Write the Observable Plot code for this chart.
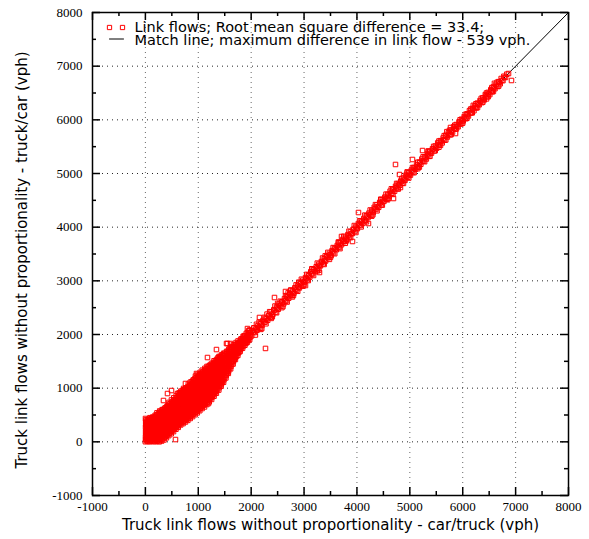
<!DOCTYPE html>
<html>
<head>
<meta charset="utf-8">
<script src="https://cdn.jsdelivr.net/npm/d3@7"></script>
<script src="https://cdn.jsdelivr.net/npm/@observablehq/plot@0.6"></script>
<style>
html, body { margin: 0; padding: 0; background: #fff; }
</style>
</head>
<body>
<script>
// Axis ticks
const majorTicks = [-1000, 0, 1000, 2000, 3000, 4000, 5000, 6000, 7000, 8000];
const minorTicks = [-500, 500, 1500, 2500, 3500, 4500, 5500, 6500, 7500];
const gridTicks = [0, 1000, 2000, 3000, 4000, 5000, 6000, 7000];

// Texts
const xTitle = "Truck link flows without proportionality - car/truck (vph)";
const yTitle = "Truck link flows without proportionality - truck/car (vph)";
const legendPoints = "Link flows; Root mean square difference = 33.4;";
const legendLine = "Match line; maximum difference in link flow - 539 vph.";

// Match line (y = x)
const matchLine = [0, 8000];

// Link flows [car/truck, truck/car] — dense cluster near the origin
const clusterFlows = [
[0,2],[6,48],[2,92],[10,138],[4,182],[12,228],[3,272],[8,318],[5,362],[11,408],
[38,8],[44,52],[36,98],[46,142],[40,188],[48,232],[42,278],[37,322],[45,368],[41,412],
[82,0],[88,45],[84,90],[92,135],[80,180],[90,225],[86,270],[94,315],[83,360],[91,405],[87,450],
[128,12],[134,58],[126,102],[136,148],[130,192],[138,238],[132,282],[127,328],[135,372],[131,418],[139,462],
[172,0],[178,45],[174,90],[182,135],[170,180],[180,225],[176,270],[184,315],[173,360],[181,405],[177,450],[185,495],
[218,10],[224,55],[216,100],[226,145],[220,190],[228,235],[222,280],[217,325],[225,370],[221,415],[229,460],[223,505],[219,540],
[262,0],[268,45],[264,90],[272,135],[260,180],[270,225],[266,270],[274,315],[263,360],[271,405],[267,450],[275,495],[262,540],[270,575],
[308,15],[314,60],[306,105],[316,150],[310,195],[318,240],[312,285],[307,330],[315,375],[311,420],[319,465],[313,510],[309,555],[317,600],
[352,35],[358,80],[354,125],[362,170],[350,215],[360,260],[356,305],[364,350],[353,395],[361,440],[357,485],[365,530],[352,575],[360,620],
[398,75],[404,120],[396,165],[406,210],[400,255],[408,300],[402,345],[397,390],[405,435],[401,480],[409,525],[403,570],[399,615],[407,660],
[442,115],[448,160],[444,205],[452,250],[440,295],[450,340],[446,385],[454,430],[443,475],[451,520],[447,565],[455,610],[442,655],[450,700],[446,735],
[488,150],[494,195],[486,240],[496,285],[490,330],[498,375],[492,420],[487,465],[495,510],[491,555],[499,600],[493,645],[489,690],[497,735],[492,780],
[532,190],[538,235],[534,280],[542,325],[530,370],[540,415],[536,460],[544,505],[533,550],[541,595],[537,640],[545,685],[532,730],[540,775],[536,820],
[578,235],[584,280],[576,325],[586,370],[580,415],[588,460],[582,505],[577,550],[585,595],[581,640],[589,685],[583,730],[579,775],[587,820],[582,862],
[622,270],[628,315],[624,360],[632,405],[620,450],[630,495],[626,540],[634,585],[623,630],[631,675],[627,720],[635,765],[622,810],[630,855],[626,905],
[668,315],[674,360],[666,405],[676,450],[670,495],[678,540],[672,585],[667,630],[675,675],[671,720],[679,765],[673,810],[669,855],[677,900],[672,945],
[712,340],[718,385],[714,430],[722,475],[710,520],[720,565],[716,610],[724,655],[713,700],[721,745],[717,790],[725,835],[712,880],[720,925],[716,970],[722,995],
[758,370],[764,415],[756,460],[766,505],[760,550],[768,595],[762,640],[757,685],[765,730],[761,775],[769,820],[763,865],[759,910],[767,955],[762,1000],
[802,400],[808,445],[804,490],[812,535],[800,580],[810,625],[806,670],[814,715],[803,760],[811,805],[807,850],[815,895],[802,940],[810,985],[806,1030],[812,1075],
[848,435],[854,480],[846,525],[856,570],[850,615],[858,660],[852,705],[847,750],[855,795],[851,840],[859,885],[853,930],[849,975],[857,1020],[852,1065],[848,1110],
[892,470],[898,515],[894,560],[902,605],[890,650],[900,695],[896,740],[904,785],[893,830],[901,875],[897,920],[905,965],[892,1010],[900,1055],[896,1100],[902,1150],
[938,505],[944,550],[936,595],[946,640],[940,685],[948,730],[942,775],[937,820],[945,865],[941,910],[949,955],[943,1000],[939,1045],[947,1090],[942,1135],[938,1180],[947,1225],
[982,540],[988,585],[984,630],[992,675],[980,720],[990,765],[986,810],[994,855],[983,900],[991,945],[987,990],[995,1035],[982,1080],[990,1125],[986,1170],[992,1215],[985,1255],
[1028,580],[1034,625],[1026,670],[1036,715],[1030,760],[1038,805],[1032,850],[1027,895],[1035,940],[1031,985],[1039,1030],[1033,1075],[1029,1120],[1037,1165],[1032,1210],[1028,1255],[1035,1295],
[1072,620],[1078,665],[1074,710],[1082,755],[1070,800],[1080,845],[1076,890],[1084,935],[1073,980],[1081,1025],[1077,1070],[1085,1115],[1072,1160],[1080,1205],[1076,1250],[1082,1295],[1075,1335],
[1118,650],[1124,695],[1116,740],[1126,785],[1120,830],[1128,875],[1122,920],[1117,965],[1125,1010],[1121,1055],[1129,1100],[1123,1145],[1119,1190],[1127,1235],[1122,1280],[1118,1325],[1125,1370],
[1162,695],[1168,740],[1164,785],[1172,830],[1160,875],[1170,920],[1166,965],[1174,1010],[1163,1055],[1171,1100],[1167,1145],[1175,1190],[1162,1235],[1170,1280],[1166,1325],[1172,1370],[1165,1405],
[1208,745],[1214,790],[1206,835],[1216,880],[1210,925],[1218,970],[1212,1015],[1207,1060],[1215,1105],[1211,1150],[1219,1195],[1213,1240],[1209,1285],[1217,1330],[1212,1375],[1208,1420],
[1252,790],[1258,835],[1254,880],[1262,925],[1250,970],[1260,1015],[1256,1060],[1264,1105],[1253,1150],[1261,1195],[1257,1240],[1265,1285],[1252,1330],[1260,1375],[1256,1420],[1262,1465],
[1298,850],[1304,895],[1296,940],[1306,985],[1300,1030],[1308,1075],[1302,1120],[1297,1165],[1305,1210],[1301,1255],[1309,1300],[1303,1345],[1299,1390],[1307,1435],[1302,1480],[1298,1510],
[1342,905],[1348,950],[1344,995],[1352,1040],[1340,1085],[1350,1130],[1346,1175],[1354,1220],[1343,1265],[1351,1310],[1347,1355],[1355,1400],[1342,1445],[1350,1490],[1346,1535],
[1388,965],[1394,1010],[1386,1055],[1396,1100],[1390,1145],[1398,1190],[1392,1235],[1387,1280],[1395,1325],[1391,1370],[1399,1415],[1393,1460],[1389,1505],[1397,1550],[1392,1590],
[1432,1035],[1438,1080],[1434,1125],[1442,1170],[1430,1215],[1440,1260],[1436,1305],[1444,1350],[1433,1395],[1441,1440],[1437,1485],[1445,1530],[1432,1575],[1440,1620],
[1478,1110],[1484,1155],[1476,1200],[1486,1245],[1480,1290],[1488,1335],[1482,1380],[1477,1425],[1485,1470],[1481,1515],[1489,1560],[1483,1605],[1479,1650],
[1522,1190],[1528,1235],[1524,1280],[1532,1325],[1520,1370],[1530,1415],[1526,1460],[1534,1505],[1523,1550],[1531,1595],[1527,1640],[1535,1685],
[1568,1275],[1574,1320],[1566,1365],[1576,1410],[1570,1455],[1578,1500],[1572,1545],[1567,1590],[1575,1635],[1571,1680],[1579,1725],
[1612,1360],[1618,1405],[1614,1450],[1622,1495],[1610,1540],[1620,1585],[1616,1630],[1624,1675],[1613,1720],[1621,1765],
[1658,1450],[1664,1495],[1656,1540],[1666,1585],[1660,1630],[1668,1675],[1662,1720],[1657,1765],[1665,1810],
[1702,1535],[1708,1580],[1704,1625],[1712,1670],[1700,1715],[1710,1760],[1706,1805],[1714,1850],
[1748,1610],[1754,1655],[1746,1700],[1756,1745],[1750,1790],[1758,1835],[1752,1880],
[1792,1685],[1798,1730],[1794,1775],[1802,1820],[1790,1865],[1800,1910],
[1838,1745],[1844,1790],[1836,1835],[1846,1880],[1840,1925],[1848,1965],
[1882,1800],[1888,1845],[1884,1890],[1892,1935],[1880,1980],
[1928,1855],[1934,1900],[1926,1945],[1936,1990],[1930,2035],
[1972,1905],[1978,1950],[1974,1995],[1982,2040],[1970,2085]
];

// Link flows filling the core of the cluster (between the rows above)
const clusterCoreFlows = [
[22,25],[27,70],[20,115],[25,160],[21,205],[28,250],[23,295],[26,340],[20,385],
[60,22],[66,68],[61,112],[65,158],[63,202],[67,248],[60,292],[64,338],[62,382],[66,425],
[105,25],[111,70],[106,115],[110,160],[108,205],[112,250],[105,295],[109,340],[107,385],[111,430],
[151,22],[157,68],[152,112],[156,158],[154,202],[158,248],[151,292],[155,338],[153,382],[157,428],
[196,30],[202,75],[197,120],[201,165],[199,210],[203,255],[196,300],[200,345],[198,390],[202,435],[197,480],
[241,25],[247,70],[242,115],[246,160],[244,205],[248,250],[241,295],[245,340],[243,385],[247,430],[242,475],[246,520],
[286,35],[292,80],[287,125],[291,170],[289,215],[293,260],[286,305],[290,350],[288,395],[292,440],[287,485],[291,530],[289,560],
[330,55],[336,100],[331,145],[335,190],[333,235],[337,280],[330,325],[334,370],[332,415],[336,460],[331,505],[335,550],[333,595],
[375,95],[381,140],[376,185],[380,230],[378,275],[382,320],[375,365],[379,410],[377,455],[381,500],[376,545],[380,590],[378,635],
[420,135],[426,180],[421,225],[425,270],[423,315],[427,360],[420,405],[424,450],[422,495],[426,540],[421,585],[425,630],[423,675],
[465,170],[471,215],[466,260],[470,305],[468,350],[472,395],[465,440],[469,485],[467,530],[471,575],[466,620],[470,665],[468,710],
[510,210],[516,255],[511,300],[515,345],[513,390],[517,435],[510,480],[514,525],[512,570],[516,615],[511,660],[515,705],[513,750],
[555,250],[561,295],[556,340],[560,385],[558,430],[562,475],[555,520],[559,565],[557,610],[561,655],[556,700],[560,745],[558,790],
[600,290],[606,335],[601,380],[605,425],[603,470],[607,515],[600,560],[604,605],[602,650],[606,695],[601,740],[605,785],[603,830],
[645,330],[651,375],[646,420],[650,465],[648,510],[652,555],[645,600],[649,645],[647,690],[651,735],[646,780],[650,825],[648,870],[652,915],
[690,360],[696,405],[691,450],[695,495],[693,540],[697,585],[690,630],[694,675],[692,720],[696,765],[691,810],[695,855],[693,900],[697,945],
[735,390],[741,435],[736,480],[740,525],[738,570],[742,615],[735,660],[739,705],[737,750],[741,795],[736,840],[740,885],[738,930],[742,975],
[780,420],[786,465],[781,510],[785,555],[783,600],[787,645],[780,690],[784,735],[782,780],[786,825],[781,870],[785,915],[783,960],[787,1005],
[825,455],[831,500],[826,545],[830,590],[828,635],[832,680],[825,725],[829,770],[827,815],[831,860],[826,905],[830,950],[828,995],[832,1040],
[870,490],[876,535],[871,580],[875,625],[873,670],[877,715],[870,760],[874,805],[872,850],[876,895],[871,940],[875,985],[873,1030],[877,1075],[872,1120],
[915,525],[921,570],[916,615],[920,660],[918,705],[922,750],[915,795],[919,840],[917,885],[921,930],[916,975],[920,1020],[918,1065],[922,1110],[917,1155],
[960,560],[966,605],[961,650],[965,695],[963,740],[967,785],[960,830],[964,875],[962,920],[966,965],[961,1010],[965,1055],[963,1100],[967,1145],[962,1190],
[1005,600],[1011,645],[1006,690],[1010,735],[1008,780],[1012,825],[1005,870],[1009,915],[1007,960],[1011,1005],[1006,1050],[1010,1095],[1008,1140],[1012,1185],[1007,1230],
[1050,640],[1056,685],[1051,730],[1055,775],[1053,820],[1057,865],[1050,910],[1054,955],[1052,1000],[1056,1045],[1051,1090],[1055,1135],[1053,1180],[1057,1225],[1052,1270],
[1095,680],[1101,725],[1096,770],[1100,815],[1098,860],[1102,905],[1095,950],[1099,995],[1097,1040],[1101,1085],[1096,1130],[1100,1175],[1098,1220],[1102,1265],[1097,1310],
[1140,720],[1146,765],[1141,810],[1145,855],[1143,900],[1147,945],[1140,990],[1144,1035],[1142,1080],[1146,1125],[1141,1170],[1145,1215],[1143,1260],[1147,1305],[1142,1350],
[1185,770],[1191,815],[1186,860],[1190,905],[1188,950],[1192,995],[1185,1040],[1189,1085],[1187,1130],[1191,1175],[1186,1220],[1190,1265],[1188,1310],[1192,1355],[1187,1395],
[1230,815],[1236,860],[1231,905],[1235,950],[1233,995],[1237,1040],[1230,1085],[1234,1130],[1232,1175],[1236,1220],[1231,1265],[1235,1310],[1233,1355],[1237,1400],[1232,1440],
[1275,870],[1281,915],[1276,960],[1280,1005],[1278,1050],[1282,1095],[1275,1140],[1279,1185],[1277,1230],[1281,1275],[1276,1320],[1280,1365],[1278,1410],[1282,1455],
[1320,925],[1326,970],[1321,1015],[1325,1060],[1323,1105],[1327,1150],[1320,1195],[1324,1240],[1322,1285],[1326,1330],[1321,1375],[1325,1420],[1323,1465],[1327,1510],
[1365,985],[1371,1030],[1366,1075],[1370,1120],[1368,1165],[1372,1210],[1365,1255],[1369,1300],[1367,1345],[1371,1390],[1366,1435],[1370,1480],[1368,1525],[1372,1565],
[1410,1050],[1416,1095],[1411,1140],[1415,1185],[1413,1230],[1417,1275],[1410,1320],[1414,1365],[1412,1410],[1416,1455],[1411,1500],[1415,1545],[1413,1590],
[1455,1120],[1461,1165],[1456,1210],[1460,1255],[1458,1300],[1462,1345],[1455,1390],[1459,1435],[1457,1480],[1461,1525],[1456,1570],[1460,1615],
[1500,1200],[1506,1245],[1501,1290],[1505,1335],[1503,1380],[1507,1425],[1500,1470],[1504,1515],[1502,1560],[1506,1605],[1501,1650],
[1545,1280],[1551,1325],[1546,1370],[1550,1415],[1548,1460],[1552,1505],[1545,1550],[1549,1595],[1547,1640],[1551,1685],
[1590,1370],[1596,1415],[1591,1460],[1595,1505],[1593,1550],[1597,1595],[1590,1640],[1594,1685],[1592,1730],
[1635,1450],[1641,1495],[1636,1540],[1640,1585],[1638,1630],[1642,1675],[1635,1720],[1639,1765],
[1680,1530],[1686,1575],[1681,1620],[1685,1665],[1683,1710],[1687,1755],[1680,1800],
[1725,1600],[1731,1645],[1726,1690],[1730,1735],[1728,1780],[1732,1825],
[1770,1670],[1776,1715],[1771,1760],[1775,1805],[1773,1850],
[1815,1740],[1821,1785],[1816,1830],[1820,1875],[1818,1920],
[1860,1790],[1866,1835],[1861,1880],[1865,1925],[1863,1970],
[1905,1840],[1911,1885],[1906,1930],[1910,1975],[1908,2020],
[1950,1890],[1956,1935],[1951,1980],[1955,2025],[1953,2070]
];

// Link flows along the diagonal above 2000 vph
const bandFlows = [
[2010,1975],[2025,2070],[2060,2035],[2078,2125],[2110,2080],[2122,2160],[2163,2118],[2176,2215],[2205,2170],[2224,2262],
[2262,2230],[2271,2305],[2312,2265],[2330,2350],[2360,2320],[2377,2418],[2410,2376],[2428,2462],[2462,2418],[2480,2512],
[2511,2470],[2526,2566],[2560,2528],[2578,2610],[2614,2570],[2630,2668],[2658,2622],[2675,2710],[2710,2676],[2729,2760],
[2762,2722],[2780,2812],[2808,2770],[2826,2870],[2860,2826],[2879,2912],[2912,2868],[2930,2962],[2958,2920],[2977,3012],
[3010,2978],[3028,3060],[3062,3020],[3080,3112],[3108,3070],[3127,3170],[3160,3128],[3178,3210],[3212,3170],[3230,3262],
[3258,3220],[3277,3312],[3310,3280],[3328,3360],[3362,3318],[3380,3412],[3408,3370],[3427,3470],[3460,3430],[3478,3512],
[3512,3470],[3530,3562],[3558,3520],[3577,3612],[3610,3580],[3628,3660],[3662,3620],[3680,3712],[3708,3672],[3727,3770],
[3760,3730],[3778,3812],[3812,3770],[3830,3862],[3858,3820],[3877,3912],[3910,3880],[3928,3960],[3962,3920],[3980,4012],
[4008,3972],[4027,4068],[4060,4030],[4078,4112],[4112,4070],[4130,4162],[4158,4120],[4177,4212],[4210,4180],[4228,4262],
[4262,4220],[4280,4312],[4308,4272],[4327,4370],[4360,4330],[4378,4412],[4412,4370],[4430,4462],[4458,4420],[4477,4512],
[4510,4480],[4528,4560],[4562,4520],[4580,4612],[4608,4572],[4627,4670],[4660,4630],[4678,4712],[4712,4670],[4730,4762],
[4758,4720],[4777,4812],[4810,4780],[4828,4860],[4862,4820],[4880,4912],[4908,4872],[4927,4970],[4960,4930],[4978,5012],
[5012,4970],[5030,5062],[5058,5020],[5077,5112],[5110,5080],[5128,5160],[5162,5120],[5180,5212],[5208,5172],[5227,5270],
[5260,5230],[5278,5312],[5312,5270],[5330,5362],[5358,5320],[5377,5412],[5410,5380],[5428,5460],[5462,5420],[5480,5512],
[5508,5472],[5527,5570],[5560,5530],[5578,5612],[5612,5570],[5630,5662],[5658,5620],[5677,5712],[5710,5680],[5728,5760],
[5762,5720],[5780,5812],[5808,5772],[5827,5870],[5860,5830],[5878,5912],[5912,5870],[5930,5962],[5958,5920],[5977,6012],
[6010,5980],[6028,6060],[6062,6020],[6080,6112],[6108,6072],[6127,6170],[6160,6130],[6178,6212],[6212,6170],[6230,6262],
[6258,6220],[6277,6312],[6310,6280],[6328,6360],[6362,6320],[6380,6412],[6408,6372],[6427,6470],[6460,6430],[6478,6512],
[6512,6470],[6530,6562],[6558,6520],[6577,6612],[6610,6580],[6628,6660],[6662,6620],[6680,6712],[6708,6672],[6727,6770],
[6760,6730],[6778,6812],[6810,6790],[6832,6850],[6866,6863]
];

// More link flows close to the diagonal
const bandCoreFlows = [
[2040,2045],[2090,2095],[2140,2130],[2190,2200],[2240,2235],[2290,2290],[2340,2345],[2390,2380],[2440,2450],[2490,2485],
[2540,2540],[2590,2595],[2640,2630],[2690,2700],[2740,2735],[2790,2790],[2840,2845],[2890,2880],[2940,2950],[2990,2985],
[3040,3040],[3090,3095],[3140,3130],[3190,3200],[3240,3235],[3290,3290],[3340,3345],[3390,3380],[3440,3450],[3490,3485],
[3540,3540],[3590,3595],[3640,3630],[3690,3700],[3740,3735],[3790,3790],[3840,3845],[3890,3880],[3940,3950],[3990,3985],
[4040,4040],[4090,4095],[4140,4130],[4190,4200],[4240,4235],[4290,4290],[4340,4345],[4390,4380],[4440,4450],[4490,4485],
[4540,4540],[4590,4595],[4640,4630],[4690,4700],[4740,4735],[4790,4790],[4840,4845],[4890,4880],[4940,4950],[4990,4985],
[5040,5040],[5090,5095],[5140,5130],[5190,5200],[5240,5235],[5290,5290],[5340,5345],[5390,5380],[5440,5450],[5490,5485],
[5540,5540],[5590,5595],[5640,5630],[5690,5700],[5740,5735],[5790,5790],[5840,5845],[5890,5880],[5940,5950],[5990,5985],
[6040,6040],[6090,6095],[6140,6130],[6190,6200],[6240,6235],[6290,6290],[6340,6345],[6390,6380],[6440,6450],[6490,6485],
[6540,6540],[6590,6595],[6640,6630],[6690,6700],[6740,6735],[6790,6790],
[2100,2190],[2200,2110],[2300,2380],[2400,2330],[2500,2580],[2600,2520],[2700,2780],[2800,2730],[2900,2975],[3000,2930],
[3150,3220],[3250,3185],[3400,3465],[3500,3440],[3650,3710],[3800,3745],
[4300,4230],[4450,4520],[4600,4540],[4950,5030],[5150,5090],[5350,5420],[5550,5490],[5700,5780],[6000,5940],[6200,6270],
[6450,6390],[6600,6680]
];

// Link flows on the edges of the diagonal band
const bandEdgeFlows = [
[2050,2125],[2080,1990],[2150,2230],[2180,2095],[2250,2320],[2280,2200],[2350,2425],[2380,2300],[2450,2530],[2480,2405],
[2550,2620],[2580,2500],[2650,2725],[2680,2605],[2750,2830],[2780,2700],[2850,2925],[2880,2805],[2950,3030],[2980,2900],
[3050,3120],[3080,3005],[3150,3225],[3180,3100],[3250,3330],[3280,3200],[3350,3425],[3380,3305],[3450,3530],[3480,3400],
[3550,3620],[3580,3505],[3650,3725],[3680,3600],[3750,3830],[3780,3700],[3850,3925],[3880,3805],[3950,4030],[3980,3900],
[4050,4120],[4080,4005],[4150,4225],[4180,4100],[4250,4320],[4280,4205],[4350,4420],[4380,4305],[4450,4515],[4480,4410],
[4550,4615],[4580,4510],[4650,4715],[4680,4610],[4750,4815],[4780,4710],[4850,4910],[4880,4815],[4950,5010],[4980,4915],
[5050,5110],[5080,5015],[5150,5210],[5180,5120],[5250,5310],[5280,5220],[5350,5410],[5380,5320],[5450,5505],[5480,5425],
[5550,5605],[5580,5525],[5650,5705],[5680,5625],[5750,5805],[5780,5725],[5850,5900],[5880,5830],[5950,6000],[5980,5930],
[6050,6100],[6080,6030],[6150,6200],[6180,6130],[6250,6300],[6280,6230],[6350,6400],[6380,6330],[6450,6500],[6480,6430],
[6550,6600],[6580,6530],[6650,6700],[6680,6630]
];

// Scattered link flows away from the diagonal
const outlierFlows = [
[2,435],[59,397],[153,453],[342,770],[418,900],[494,956],[569,43],[607,900],[664,919],[758,1087],
[966,1273],[1174,1571],[1193,714],[1269,845],[1344,1720],[1534,1832],[1552,1832],[1609,1832],[1930,2111],
[2271,1740],[2157,2317],[2441,2689],[2649,2801],[2744,2820],[3027,2913],[3292,3155],[3708,3826],[3916,3733],
[4029,4273],[4218,4068],[4691,4534],[4729,5168],[4805,4981],[4823,4739],[5050,5261],[5240,5428],[5769,5857],
[5864,5745],[6922,6733]
];

const linkFlows = clusterFlows.concat(clusterCoreFlows, bandFlows, bandCoreFlows, bandEdgeFlows, outlierFlows);

const W = 589, H = 539;
const mL = 92, mR = 21, mT = 12, mB = 44;
const innerW = W - mL - mR, innerH = H - mT - mB;
const fmt = d => String(d);
const serif = "Liberation Serif";

const lineShape = {
  draw(context, l) { context.moveTo(0, 0); context.lineTo(0, -l); }
};

const chart = Plot.plot({
  width: W,
  height: H,
  marginLeft: mL,
  marginRight: mR,
  marginTop: mT,
  marginBottom: mB,
  style: { fontFamily: "DejaVu Sans", fontSize: "14.5px", background: "#fff", color: "#000" },
  x: { domain: [-1000, 8000], axis: null },
  y: { domain: [-1000, 8000], axis: null },
  marks: [
    Plot.gridX(gridTicks, { stroke: "#000", strokeOpacity: 0.6, strokeDasharray: "1,4" }),
    Plot.gridY(gridTicks, { stroke: "#000", strokeOpacity: 0.85, strokeDasharray: "1,4" }),
    Plot.line(matchLine, { x: d => d, y: d => d, stroke: "#000", strokeWidth: 1 }),
    Plot.dot(linkFlows, { x: d => d[0], y: d => d[1], symbol: "square", r: 2.55, stroke: "#ff0000", fill: "none", strokeWidth: 1 }),
    // inward ticks on all four sides
    Plot.tickX(majorTicks, { x: d => d, insetTop: innerH - 8, stroke: "#000", strokeWidth: 1.5 }),
    Plot.tickX(majorTicks, { x: d => d, insetBottom: innerH - 8, stroke: "#000", strokeWidth: 1.5 }),
    Plot.tickX(minorTicks, { x: d => d, insetTop: innerH - 4, stroke: "#000", strokeWidth: 1.5 }),
    Plot.tickX(minorTicks, { x: d => d, insetBottom: innerH - 4, stroke: "#000", strokeWidth: 1.5 }),
    Plot.tickY(majorTicks, { y: d => d, insetRight: innerW - 8, stroke: "#000", strokeWidth: 1.5 }),
    Plot.tickY(majorTicks, { y: d => d, insetLeft: innerW - 8, stroke: "#000", strokeWidth: 1.5 }),
    Plot.tickY(minorTicks, { y: d => d, insetRight: innerW - 4, stroke: "#000", strokeWidth: 1.5 }),
    Plot.tickY(minorTicks, { y: d => d, insetLeft: innerW - 4, stroke: "#000", strokeWidth: 1.5 }),
    Plot.frame({ stroke: "#000", strokeWidth: 1.5 }),
    // tick labels (serif)
    Plot.text(majorTicks, { x: d => d, text: fmt, frameAnchor: "bottom", lineAnchor: "top", dy: 6, fontFamily: serif, fontSize: 13, fill: "#000" }),
    Plot.text(majorTicks, { y: d => d, text: fmt, frameAnchor: "left", textAnchor: "end", lineAnchor: "middle", dx: -10, fontFamily: serif, fontSize: 13, fill: "#000" }),
    // axis titles
    Plot.text([xTitle], { text: d => d, frameAnchor: "bottom", dy: 30, lineAnchor: "middle", fontSize: 15, fill: "#000" }),
    Plot.text([yTitle], { text: d => d, frameAnchor: "left", textAnchor: "middle", rotate: -90, dx: -70, dy: 6, lineAnchor: "middle", fontSize: 15, fill: "#000" }),
    // legend
    Plot.dot([legendPoints], { frameAnchor: "top-left", dx: 17, dy: 15, symbol: "square", r: 2.4, stroke: "#ff0000", fill: "none", strokeWidth: 1 }),
    Plot.dot([legendPoints], { frameAnchor: "top-left", dx: 30, dy: 15, symbol: "square", r: 2.4, stroke: "#ff0000", fill: "none", strokeWidth: 1 }),
    Plot.text([legendPoints], { text: d => d, frameAnchor: "top-left", textAnchor: "start", lineAnchor: "middle", dx: 42, dy: 14.4, fontSize: 14.5, fill: "#000" }),
    Plot.vector([legendLine], { frameAnchor: "top-left", dx: 17, dy: 26.5, length: 14, rotate: 90, anchor: "start", shape: lineShape, stroke: "#000", strokeWidth: 1 }),
    Plot.text([legendLine], { text: d => d, frameAnchor: "top-left", textAnchor: "start", lineAnchor: "middle", dx: 42, dy: 27.7, fontSize: 14.5, fill: "#000" })
  ]
});

document.body.appendChild(chart);
</script>
</body>
</html>
